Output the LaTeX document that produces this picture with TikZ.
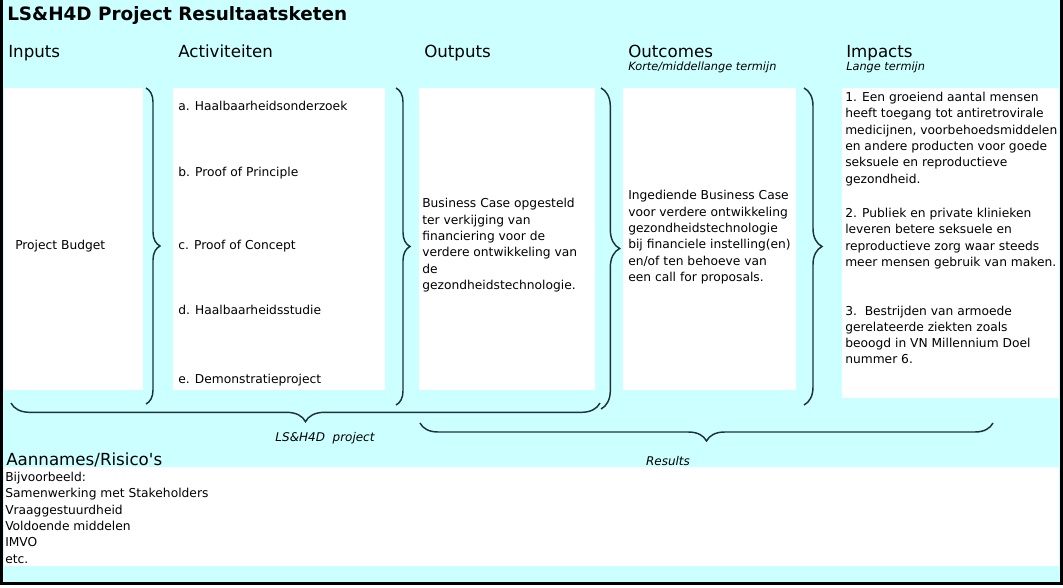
\documentclass[tikz,border=0pt]{standalone}
\usepackage{fontspec}
\setmainfont{DejaVu Sans}
\usetikzlibrary{decorations.pathreplacing}
\definecolor{bgcyan}{RGB}{204,255,255}
\definecolor{bracecol}{RGB}{30,50,60}
\begin{document}
\begin{tikzpicture}[x=0.75pt,y=-0.75pt,
  whitebox/.style={fill=white, draw=none},
  body/.style={font=\fontsize{9.2}{12.2}\selectfont, inner sep=0pt, anchor=base west, align=left},
  head/.style={font=\fontsize{12.5}{15}\selectfont, inner sep=0pt, anchor=base west},
  subhead/.style={font=\fontsize{8.5}{10}\selectfont\itshape, inner sep=0pt, anchor=base west},
  bracelabel/.style={font=\fontsize{9}{11}\selectfont\itshape, inner sep=0pt, anchor=base},
  curly/.style={draw=bracecol, line width=1.1pt, decorate, decoration={brace, amplitude=#1}},
]
\useasboundingbox (0,0) rectangle (1063,588);
\fill[white] (0,0) rectangle (1063,588);
\fill[bgcyan] (3,0) rectangle (1060,582);
\draw[line width=2.2pt] (1.5,0) -- (1.5,583.5) -- (1061.5,583.5) -- (1061.5,0);

% white boxes
\path[whitebox] (4,88) rectangle (143,390);
\path[whitebox] (173,88) rectangle (385,390);
\path[whitebox] (419,88) rectangle (595,390);
\path[whitebox] (623,88) rectangle (796,390);
\path[whitebox] (842,88) rectangle (1059,398);
\path[whitebox] (4,467) rectangle (1059,566);

% title and headers
\node[font=\fontsize{13.8}{16}\selectfont\bfseries, inner sep=0pt, anchor=base west] (title) at (7,21) {LS\&H4D Project Resultaatsketen};
\node[head] (inputs) at (8,58) {Inputs};
\node[head] (act) at (178,58) {Activiteiten};
\node[head] (outp) at (424,58) {Outputs};
\node[head] (outc) at (628,58) {Outcomes};
\node[head] (imp) at (846,58) {Impacts};
\node[subhead] (outcsub) at (628,71) {Korte/middellange termijn};
\node[subhead] (impsub) at (846,71) {Lange termijn};

% inputs / activities
\node[body] (budget) at (15,249.5) {Project Budget};
\node[body] (acta) at (178,110.5) {a. Haalbaarheidsonderzoek};
\node[body] (actb) at (178,176.5) {b. Proof of Principle};
\node[body] (actc) at (178,249.5) {c. Proof of Concept};
\node[body] (actd) at (178,314.5) {d. Haalbaarheidsstudie};
\node[body] (acte) at (178,383.5) {e. Demonstratieproject};

% outputs / outcomes (anchor = baseline of the last line)
\node[body] (outtext) at (422,289.3) {Business Case opgesteld\\ter verkijging van\\financiering voor de\\verdere ontwikkeling van\\de\\gezondheidstechnologie.};
\node[body] (outctext) at (628,281.3) {Ingediende Business Case\\voor verdere ontwikkeling\\gezondheidstechnologie\\bij financiele instelling(en)\\en/of ten behoeve van\\een call for proposals.};

% impacts
\node[body] (imp1) at (845,183.0) {1. Een groeiend aantal mensen\\heeft toegang tot antiretrovirale\\medicijnen, voorbehoedsmiddelen\\en andere producten voor goede\\seksuele en reproductieve\\gezondheid.};
\node[body] (imp2) at (845,266.5) {2. Publiek en private klinieken\\leveren betere seksuele en\\reproductieve zorg waar steeds\\meer mensen gebruik van maken.};
\node[body] (imp3) at (845,363.8) {3.\ \ Bestrijden van armoede\\gerelateerde ziekten zoals\\beoogd in VN Millennium Doel\\nummer 6.};

% assumptions
\node[head] (risk) at (6,465) {Aannames/Risico\textquotesingle s};
\node[body] (risklist) at (5,563.0) {Bijvoorbeeld:\\Samenwerking met Stakeholders\\Vraaggestuurdheid\\Voldoende middelen\\IMVO\\etc.};

% braces
\coordinate (b1t) at (146,88);  \coordinate (b1b) at (146,404);
\coordinate (b2t) at (396,88);  \coordinate (b2b) at (396,405);
\coordinate (b3t) at (601,88);  \coordinate (b3b) at (601,409);
\coordinate (b4t) at (804,88);  \coordinate (b4b) at (804,405);
\coordinate (hpr) at (600,403); \coordinate (hpl) at (11,403);
\coordinate (hrr) at (993,423); \coordinate (hrl) at (420,423);
\draw[curly=10.5pt] (b1t) -- (b1b);
\draw[curly=10.5pt] (b2t) -- (b2b);
\draw[curly=14pt] (b3t) -- (b3b);
\draw[curly=13.5pt] (b4t) -- (b4b);
\draw[curly=14pt] (hpr) -- (hpl);
\draw[curly=13.5pt] (hrr) -- (hrl);
\node[bracelabel] (lsproj) at (325,441) {LS\&H4D\ \ project};
\node[bracelabel] (results) at (668,465) {Results};
\end{tikzpicture}
\end{document}
